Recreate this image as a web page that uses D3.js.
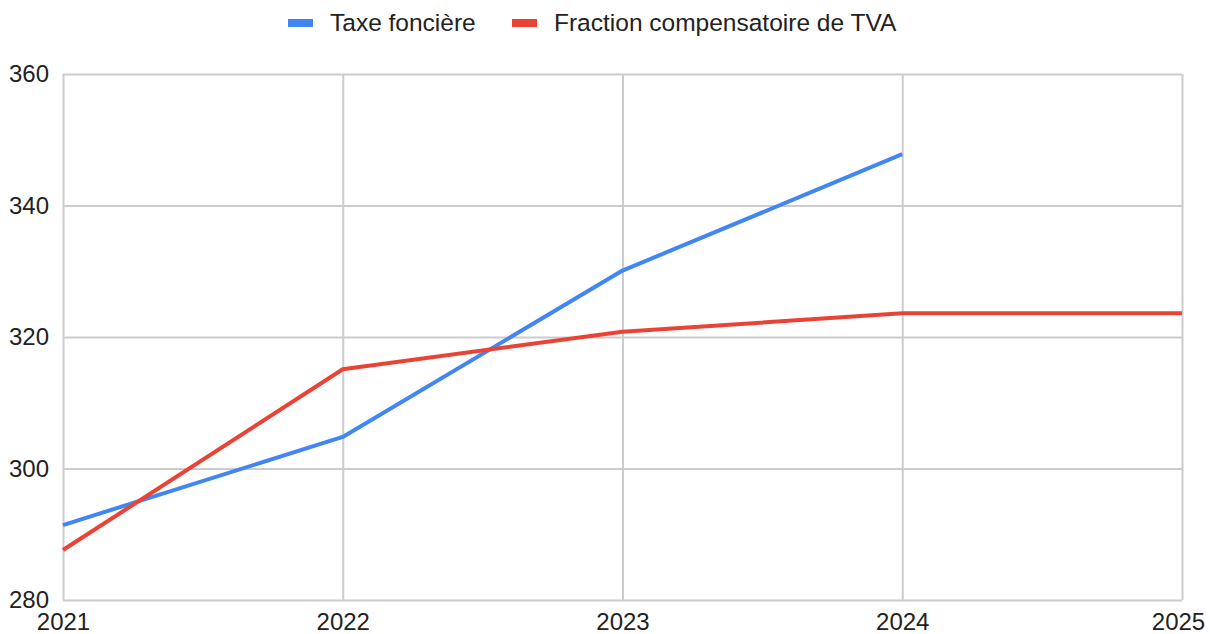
<!DOCTYPE html>
<html>
<head>
<meta charset="utf-8">
<script src="https://cdn.jsdelivr.net/npm/d3@7"></script>
<style>
  body { margin: 0; background: #fff; }
  text { font-family: Arial, "Liberation Sans", sans-serif; fill: #222; }
</style>
</head>
<body>
<div id="vis"></div>
<script>
const years = [2021, 2022, 2023, 2024, 2025];
const taxeFonciere = [291.4, 304.8, 330.1, 347.8, null];
const fractionTVA = [287.6, 315.1, 320.8, 323.6, 323.6];
const yTicks = [280, 300, 320, 340, 360];

const seriesNames = ['Taxe foncière', 'Fraction compensatoire de TVA'];
const seriesColors = ['#4285f4', '#ea4335'];

let dimensions = {
    width: 1210,
    height: 634,
    margin: { top: 74, right: 28, bottom: 34, left: 63 }
};
dimensions.boundedWidth = dimensions.width - dimensions.margin.left - dimensions.margin.right;
dimensions.boundedHeight = dimensions.height - dimensions.margin.top - dimensions.margin.bottom;

const svg = d3.select('#vis')
    .append('svg')
    .attr('width', dimensions.width)
    .attr('height', dimensions.height);

const bounds = svg.append('g')
    .attr('transform', `translate(${dimensions.margin.left},${dimensions.margin.top})`);

const xScale = d3.scaleLinear()
    .domain([2021, 2025])
    .range([0, dimensions.boundedWidth]);

const yScale = d3.scaleLinear()
    .domain([280, 360])
    .range([dimensions.boundedHeight, 0]);

// grid + labels
const yAxis = bounds.append('g')
    .call(d3.axisLeft(yScale).tickValues(yTicks).tickSize(-dimensions.boundedWidth).tickPadding(0));
yAxis.select('.domain').remove();
yAxis.selectAll('line').attr('stroke', '#cccccc').attr('stroke-width', 2);
yAxis.selectAll('text')
    .attr('x', 9 - dimensions.margin.left)
    .attr('text-anchor', 'start')
    .attr('font-size', 24)
    .style('fill', '#222');

const xAxis = bounds.append('g')
    .attr('transform', `translate(0,${dimensions.boundedHeight})`)
    .call(d3.axisBottom(xScale).tickValues(years).tickFormat(d3.format('d'))
        .tickSize(-dimensions.boundedHeight).tickPadding(13));
xAxis.select('.domain').remove();
xAxis.selectAll('line').attr('stroke', '#cccccc').attr('stroke-width', 2);
xAxis.selectAll('text')
    .attr('font-size', 24)
    .attr('dx', d => d === 2025 ? -4 : 0)
    .style('fill', '#222');

const line = d3.line()
    .defined(d => d.v !== null)
    .x(d => xScale(d.year))
    .y(d => yScale(d.v));

[taxeFonciere, fractionTVA].forEach((vals, i) => {
    bounds.append('path')
        .datum(years.map((year, j) => ({ year, v: vals[j] })))
        .attr('fill', 'none')
        .attr('stroke', seriesColors[i])
        .attr('stroke-width', 4)
        .attr('stroke-linejoin', 'round')
        .attr('d', line);
});

// legend
const legend = svg.append('g').attr('transform', 'translate(288,23)');
const legendX = [0, 224];
seriesNames.forEach((name, i) => {
    const g = legend.append('g').attr('transform', `translate(${legendX[i]},0)`);
    g.append('rect')
        .attr('x', 0).attr('y', -4)
        .attr('width', 25).attr('height', 8)
        .attr('fill', seriesColors[i]);
    g.append('text')
        .attr('x', 42).attr('y', -1)
        .attr('dy', '0.35em')
        .attr('font-size', 24.5)
        .text(name);
});
</script>
</body>
</html>
